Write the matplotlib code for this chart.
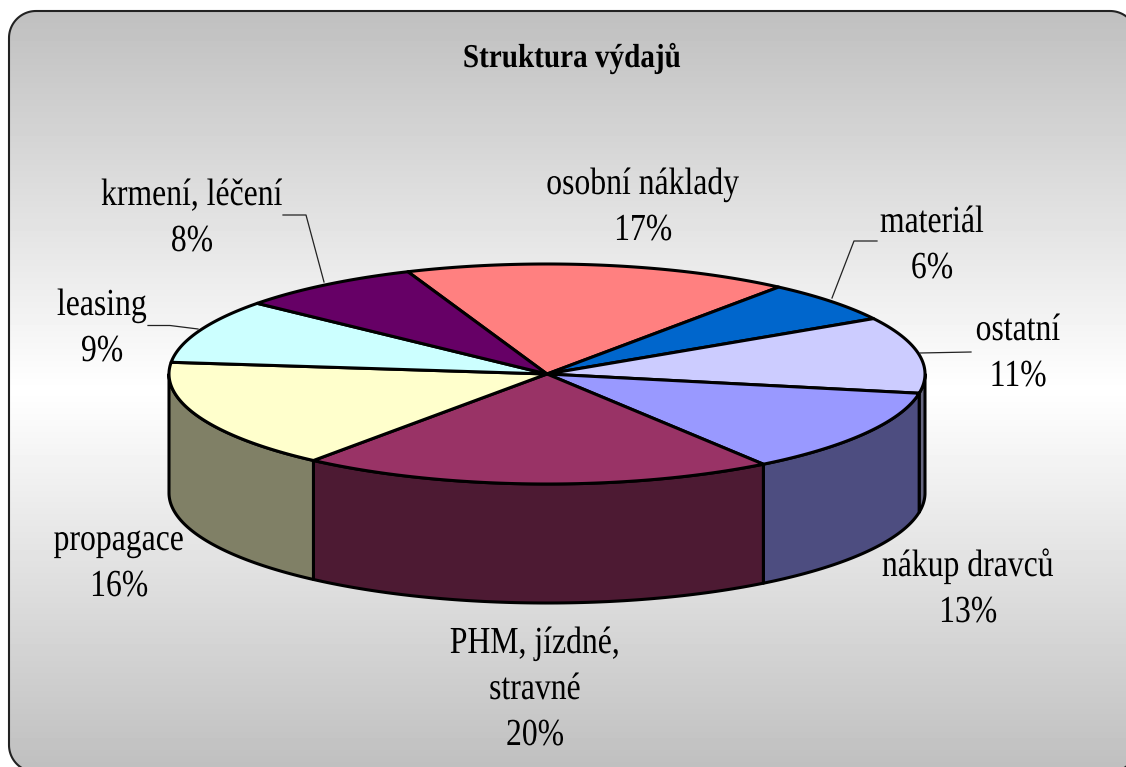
import matplotlib
matplotlib.use("Agg")
import matplotlib.pyplot as plt
import matplotlib.patheffects as pe
from matplotlib.patches import Polygon
from matplotlib.transforms import Affine2D
import numpy as np

categories = ["osobní náklady", "materiál", "ostatní", "nákup dravců",
              "PHM, jízdné,\nstravné", "propagace", "leasing", "krmení, léčení"]
percent_labels = [17, 6, 11, 13, 20, 16, 9, 8]
# wedge shares, finer than the rounded labels
shares = [16.5, 6.1, 11.2, 12.5, 20.3, 16.1, 9.4, 7.9]
top_colors = ["#FF8080", "#0066CC", "#CCCCFF", "#9999FF",
              "#993366", "#FFFFCC", "#CCFFFF", "#660066"]
side_colors = ["#804040", "#003366", "#666680", "#4D4D80",
               "#4D1A33", "#808066", "#668080", "#330033"]

# label anchor (centre x, first baseline y) in pixels
label_pos = [(643, 194), (932, 232), (1018, 340), (968, 576),
             (535, 653), (119, 550), (102, 315), (192, 205)]
leaders = [None,
           [(877, 241), (854, 241), (832, 298)],
           [(971, 352), (920, 353)],
           None, None, None,
           [(148, 325.5), (170, 325.5), (198, 329)],
           [(283, 215), (306, 215), (324, 282)]]

CX, CY, RX, RY, DEPTH = 547, 374, 378, 110, 119
START = 111.6
LINE = 46


# squeeze text sideways, the original font is set very tight
class Squeeze(pe.AbstractPathEffect):
    def __init__(self, sx):
        super().__init__()
        self.sx = sx

    def draw_path(self, renderer, gc, tpath, affine, rgbFace=None):
        box = tpath.get_extents(affine)
        mid = (box.x0 + box.x1) / 2
        a = affine + Affine2D().translate(-mid, 0).scale(self.sx, 1).translate(mid, 0)
        renderer.draw_path(gc, tpath, a, rgbFace)


def ell(angles, dy=0):
    t = np.radians(angles)
    return np.column_stack([CX + RX * np.cos(t), CY - RY * np.sin(t) + dy])


def round_panel(x0, y0, x1, y1, r):
    pts = []
    for cx, cy, a0 in [(x1 - r, y0 + r, -90), (x1 - r, y1 - r, 0),
                       (x0 + r, y1 - r, 90), (x0 + r, y0 + r, 180)]:
        t = np.radians(np.linspace(a0, a0 + 90, 30))
        pts.append(np.column_stack([cx + r * np.cos(t), cy + r * np.sin(t)]))
    return np.vstack(pts)


fig = plt.figure(figsize=(11.26, 7.67), dpi=100)
ax = fig.add_axes([0, 0, 1, 1])
ax.set_xlim(0, 1126)
ax.set_ylim(767, 0)
ax.axis("off")

# background panel
panel = Polygon(round_panel(9, 11, 1137, 772, 27), closed=True,
                fc="none", ec="#222222", lw=1.5, zorder=2)
ax.add_patch(panel)
ys = np.arange(767)
grey = np.interp(ys, [11, 390, 767], [0.75, 1.0, 0.75])
img = ax.imshow(grey[:, None], cmap="gray", vmin=0, vmax=1, aspect="auto",
                extent=(0, 1126, 767, 0), zorder=1)
img.set_clip_path(panel)

# wedge angles, clockwise from the back
edges = START - np.cumsum([0] + shares) * 3.6

# side walls, only the front half shows
for i in range(len(shares)):
    a0 = min(edges[i], 0)
    a1 = max(edges[i + 1], -180)
    if a0 <= a1:
        continue
    arc = np.linspace(a0, a1, 80)
    pts = np.vstack([ell(arc), ell(arc[::-1], DEPTH)])
    ax.add_patch(Polygon(pts, closed=True, fc=side_colors[i], ec="black", lw=2.2,
                         joinstyle="round", zorder=3))

# top faces
for i in range(len(shares)):
    arc = np.linspace(edges[i], edges[i + 1], 120)
    pts = np.vstack([[(CX, CY)], ell(arc)])
    ax.add_patch(Polygon(pts, closed=True, fc=top_colors[i], ec="black", lw=2.2,
                         joinstyle="round", zorder=4))

# leader lines
for ld in leaders:
    if ld:
        ax.plot(*zip(*ld), color="#222222", lw=0.9, zorder=5)

font = dict(family="Liberation Serif", fontsize=27.5, color="black", ha="center",
            va="baseline", zorder=6, path_effects=[Squeeze(0.83)])

for name, val, (x, y) in zip(categories, percent_labels, label_pos):
    lines = name.split("\n") + [f"{val}%"]
    for k, line in enumerate(lines):
        ax.text(x, y + k * LINE, line, **font)

ax.text(572, 67, "Struktura výdajů", family="Liberation Serif", fontsize=24,
        fontweight="bold", color="black", ha="center", va="baseline", zorder=6,
        path_effects=[Squeeze(0.875)])

fig.savefig("out.png", dpi=100)
